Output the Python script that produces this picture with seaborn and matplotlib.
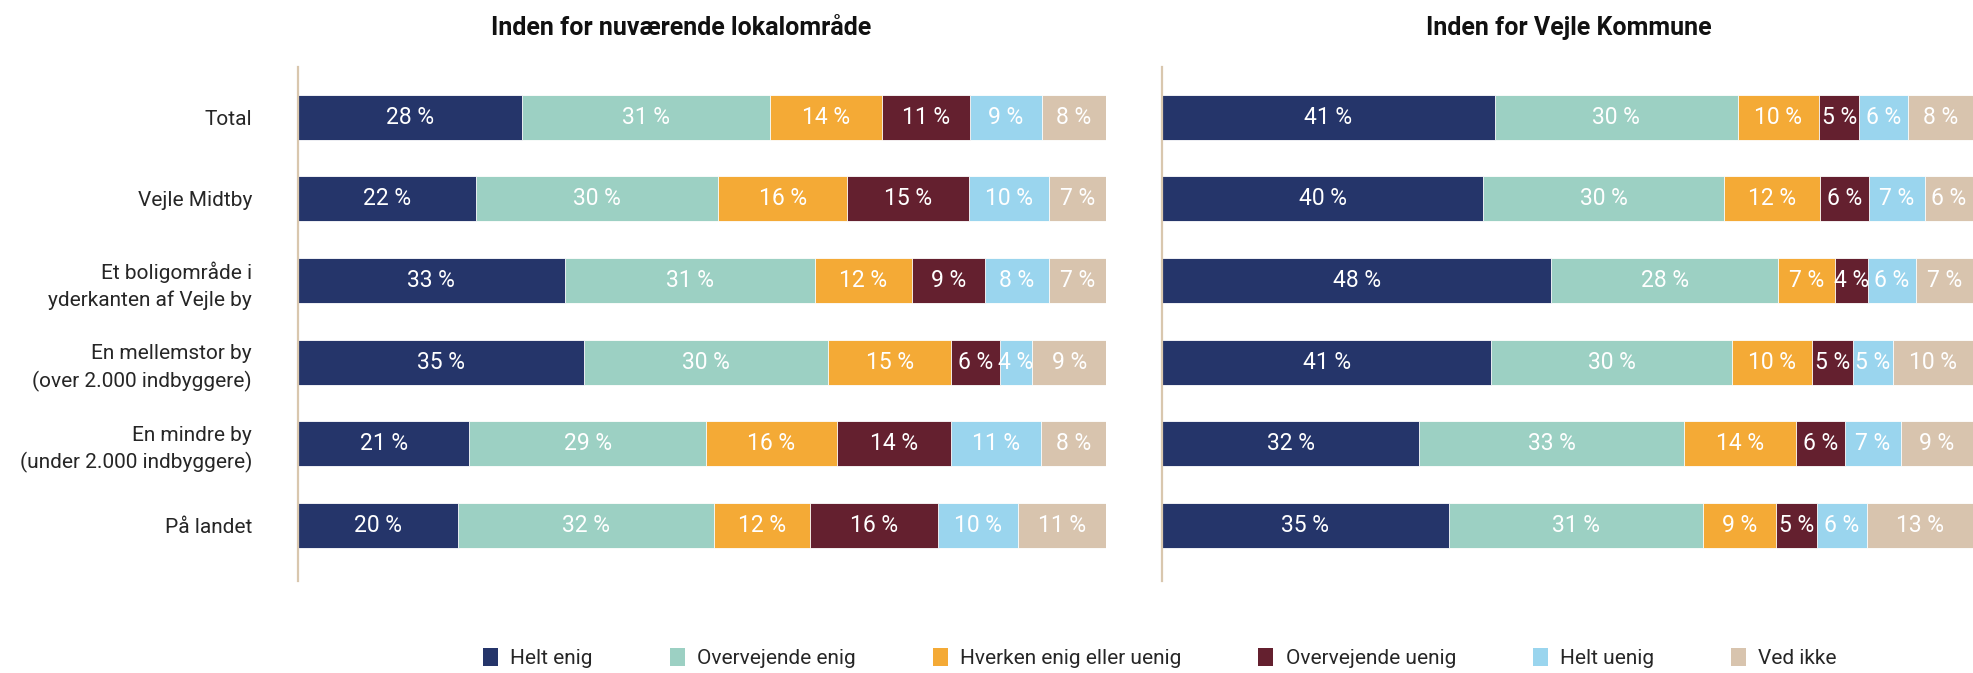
import numpy as np
import pandas as pd
import matplotlib
matplotlib.use("Agg")
import matplotlib.pyplot as plt
import seaborn as sns
from matplotlib.patches import Patch

categories = [
    "Total",
    "Vejle Midtby",
    "Et boligområde i\nyderkanten af Vejle by",
    "En mellemstor by\n(over 2.000 indbyggere)",
    "En mindre by\n(under 2.000 indbyggere)",
    "På landet",
]
answers = ["Helt enig", "Overvejende enig", "Hverken enig eller uenig",
           "Overvejende uenig", "Helt uenig", "Ved ikke"]
colors = ["#25356A", "#9CD0C3", "#F4AA36", "#64202F", "#9AD5EE", "#D8C4AE"]

# one list per answer, rows in category order
local_helt_enig = [28, 22, 33, 35, 21, 20]
local_overv_enig = [31, 30, 31, 30, 29, 32]
local_hverken = [14, 16, 12, 15, 16, 12]
local_overv_uenig = [11, 15, 9, 6, 14, 16]
local_helt_uenig = [9, 10, 8, 4, 11, 10]
local_ved_ikke = [8, 7, 7, 9, 8, 11]

kommune_helt_enig = [41, 40, 48, 41, 32, 35]
kommune_overv_enig = [30, 30, 28, 30, 33, 31]
kommune_hverken = [10, 12, 7, 10, 14, 9]
kommune_overv_uenig = [5, 6, 4, 5, 6, 5]
kommune_helt_uenig = [6, 7, 6, 5, 7, 6]
kommune_ved_ikke = [8, 6, 7, 10, 9, 13]

panels = [
    ("Inden for nuværende lokalområde",
     [local_helt_enig, local_overv_enig, local_hverken,
      local_overv_uenig, local_helt_uenig, local_ved_ikke]),
    ("Inden for Vejle Kommune",
     [kommune_helt_enig, kommune_overv_enig, kommune_hverken,
      kommune_overv_uenig, kommune_helt_uenig, kommune_ved_ikke]),
]

sns.set_theme(style="white")
plt.rcParams["font.family"] = ["Roboto", "DejaVu Sans"]

fig = plt.figure(figsize=(19.73, 6.73), dpi=100)
ax_pos = [[0.151, 0.137, 0.4095, 0.764], [0.589, 0.137, 0.411, 0.764]]
title_x = [0.345, 0.795]

for i, (title, series) in enumerate(panels):
    ax = fig.add_axes(ax_pos[i])
    vals = np.array(series, dtype=float).T  # rows = categories
    share = vals / vals.sum(axis=1, keepdims=True) * 100
    cum = np.cumsum(share, axis=1)
    df = pd.DataFrame(cum, columns=answers)
    df["cat"] = categories

    # draw cumulative bars back to front to get a stacked look
    for j in range(len(answers) - 1, -1, -1):
        sns.barplot(data=df, x=answers[j], y="cat", color=colors[j],
                    orient="h", width=0.55, saturation=1,
                    edgecolor="white", linewidth=0.6, ax=ax)

    starts = cum - share
    for r in range(len(categories)):
        for j in range(len(answers)):
            ax.text(starts[r, j] + share[r, j] / 2, r, f"{int(vals[r, j])} %",
                    ha="center", va="center", color="white", fontsize=16.5)

    ax.set_xlim(0, 100)
    ax.set_ylim(5.68, -0.62)
    ax.set_xlabel("")
    ax.set_ylabel("")
    ax.set_xticks([])
    for s in ["top", "right", "bottom"]:
        ax.spines[s].set_visible(False)
    ax.spines["left"].set_color("#D9C7AE")
    ax.spines["left"].set_linewidth(1.6)
    ax.tick_params(axis="y", length=0, pad=33, labelsize=15)
    if i == 1:
        ax.set_yticklabels([])
    else:
        for lbl in ax.get_yticklabels():
            lbl.set_horizontalalignment("right")
            lbl.set_linespacing(1.45)
    fig.text(title_x[i], 0.958, title, ha="center", va="center",
             fontsize=18, fontweight="bold", color="#111111")

handles = [Patch(facecolor=c, edgecolor="none") for c in colors]
fig.legend(handles, answers, loc="center", bbox_to_anchor=(0.588, 0.022),
           ncol=6, frameon=False, fontsize=15, handlelength=0.7,
           handleheight=0.9, handletextpad=0.6, columnspacing=3.7)

fig.savefig("out.png", dpi=100)
